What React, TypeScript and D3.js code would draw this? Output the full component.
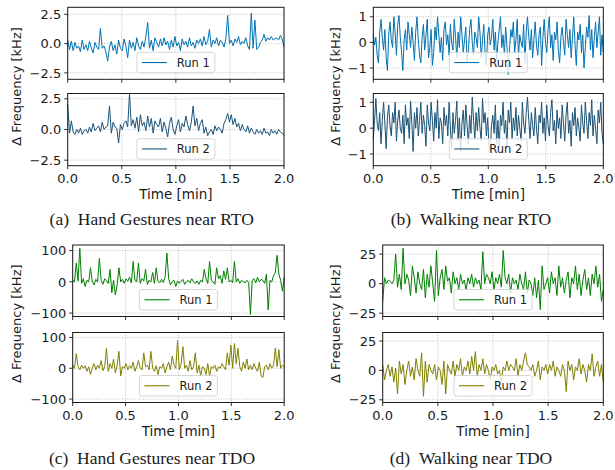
import React from "react";
import * as d3 from "d3";

// ---------- data (kHz deviation, evenly sampled over 0–2 min) ----------
const timeTicks = [0, 0.5, 1.0, 1.5, 2.0];
const ticksGesturesRTO = [-2.5, 0, 2.5];
const ticksWalkingRTO = [-1, 0, 1];
const ticksGesturesTDO = [-100, 0, 100];
const ticksWalkingTDO = [-25, 0, 25];

const gesturesRTORun1 = [
  0.3, -0.5, 0.2, -0.6, 0.1, -0.4, -0.2, -0.7, 0.3, -0.5,
  -0.1, -0.6, 0.2, -0.4, -0.8, 0.1, -0.3, -0.5, 1.3, -0.4,
  -0.2, -0.7, -1.5, -0.3, 0.2, -0.6, -0.1, -0.9, 0.3, -0.4,
  -0.6, 0.4, -0.2, -1.2, 0.3, -0.4, 0.1, -0.6, 0.5, -0.2,
  -0.5, 0.2, -0.3, 0.6, 1.8, -0.4, 0.3, -0.6, 0.5, 0.1,
  -0.3, 0.4, -0.2, 0.5, -0.1, 0.2, -0.5, 0.3, -0.3, 0.6,
  -0.2, 0.1, -0.6, 0.4, -0.1, 0.2, -0.3, 0.5, -0.2, 0.1,
  -0.4, 0.3, 0.0, 0.4, -0.2, 0.6, -0.1, 0.2, 1.2, -0.3,
  0.3, 0.0, 0.5, -0.2, 0.3, 0.1, -0.3, 0.4, 2.4, 0.0,
  0.3, -0.2, 0.4, 0.1, 0.6, -0.1, 0.2, 0.0, 0.5, -0.2,
  -0.5, 2.6, -0.4, 2.0, -0.5, -0.3, 0.1, 0.3, 0.8, 0.2,
  0.5, 0.3, 0.6, 0.3, 0.4, 0.5, 0.3, 0.7, 0.4, -0.3,
];
const gesturesRTORun2 = [
  2.1, -0.3, 0.7, -0.2, -0.4, 0.0, -0.3, 0.1, -0.4, -0.1,
  0.0, -0.3, 0.2, -0.2, 0.5, -0.1, 0.1, 0.3, -0.2, 0.6,
  0.0, 0.2, 0.3, 1.9, -0.3, 0.6, 0.2, 0.1, -1.1, 0.4,
  0.0, 0.5, 0.7, 0.2, 2.9, 0.3, 0.8, 0.1, 1.0, -0.2,
  1.2, 0.3, 0.6, -0.1, 1.1, 0.2, 0.9, -0.3, 0.7, 0.4,
  0.2, 0.9, -0.2, 0.6, 0.1, -0.6, 0.5, 1.0, 0.0, -0.4,
  0.3, 0.8, -0.2, 0.5, 0.2, 1.1, 0.4, -0.1, 0.6, 1.9,
  0.3, 0.9, -0.1, 0.5, 0.8, -0.3, 0.2, -0.5, -0.2, 0.0,
  -0.4, 0.3, -0.1, 0.2, 0.0, -0.3, 0.5, 0.8, 1.3, 0.6,
  1.2, 0.4, 0.9, 0.2, 0.5, -0.1, 0.4, 0.0, -0.2, 0.3,
  -0.3, 0.1, -0.2, -0.4, 0.0, -0.3, -0.1, -0.4, 0.1, -0.3,
  -0.2, -0.5, 0.0, -0.3, -0.1, -0.4, 0.0, -0.2, -0.3, -0.5,
];
const walkingRTORun1 = [
  0.3, -0.1, 0.2, -0.5, -0.8, 0.4, 0.9, 0.2, -0.3, 0.5,
  -0.6, -1.1, 0.3, 0.8, 0.1, -0.2, 1.0, 0.4, -0.5, 0.7,
  1.05, 0.2, -0.4, -1.1, 0.1, 0.5, -0.3, 0.8, 0.3, -0.2,
  0.6, 0.0, -0.7, 0.4, 1.0, 0.1, -0.5, -0.8, 0.2, 0.7,
  -0.3, 0.3, 0.9, -0.6, -0.2, 0.5, -0.9, -0.4, 0.6, 0.1,
  1.0, 0.3, -0.4, 0.2, -0.7, 0.5, 0.8, -0.1, 0.3, -0.5,
  0.7, 0.0, -0.3, 0.9, 0.2, -0.6, 0.4, -0.2, 1.0, 0.3,
  -0.4, 0.1, 0.6, -0.8, -0.3, 0.5, 0.9, 0.0, -0.5, 0.4,
  0.2, -0.2, 1.0, 0.4, -0.6, 0.1, 0.7, -0.4, -0.9, 0.3,
  0.6, -0.1, 0.2, 0.9, -0.3, 0.4, -0.7, 0.0, 0.5, 1.0,
  -0.2, 0.3, -0.5, 0.6, -0.1, -1.25, -0.3, 0.5, 0.2, 0.8,
  -0.4, 0.1, 0.9, -0.6, 0.3, 0.0, -0.2, 0.7, -0.8, 0.4,
  1.0, 0.2, -0.3, 0.5, -0.6, 0.1, 0.8, -0.1, -0.5, 0.3,
  0.6, -0.9, 0.2, 0.9, 0.0, -0.4, 0.5, 1.0, -0.2, 0.3,
  -0.7, 0.4, 0.1, 0.8, -0.3, -0.8, 0.2, 0.6, 0.0, -0.5,
  0.9, 0.3, -0.2, 0.5, -0.6, 0.2, 1.0, -0.1, -0.9, 0.4,
  0.1, 0.7, -0.4, 0.3, -1.0, -0.2, 0.6, 0.2, 1.05, -0.3,
  0.5, -0.6, 0.2, 0.8, -0.2, 0.4, 1.0, -0.5, 0.3, -0.4,
];
const walkingRTORun2 = [
  -0.4, 0.3, 1.15, 0.2, -0.1, 0.6, -0.6, 0.3, 1.0, 0.2,
  -0.8, 0.4, 0.9, 0.1, -0.3, 0.6, 0.2, 1.0, -0.5, 0.3,
  0.7, 0.0, -0.2, 0.5, -0.6, 0.9, 0.1, 0.4, -0.4, 1.05,
  0.2, -0.9, 0.6, 0.0, 0.8, -0.3, 0.3, 1.0, -0.2, 0.5,
  0.1, -0.7, 0.9, 0.2, -0.1, 1.0, 0.3, -0.5, 0.6, 0.0,
  1.1, -0.4, 0.4, 0.2, -0.6, 0.8, 0.1, 0.5, -0.3, 1.0,
  0.0, -0.8, 0.6, -0.2, 0.3, 1.05, -0.5, 0.4, -0.9, 0.2,
  0.7, -0.3, 0.9, 0.1, -0.6, 0.5, -0.2, 1.2, 0.3, -0.4,
  0.6, -0.1, 0.8, 0.0, -0.5, 1.15, 0.2, 0.6, -0.3, 0.4,
  -0.7, -0.9, 0.1, 0.5, -0.2, 0.9, -0.6, 0.3, -0.8, 0.5,
  0.1, 1.0, -0.2, 0.3, -0.7, 0.7, 0.2, 1.0, -0.4, 0.4,
  -0.1, 0.8, -0.3, 0.5, 0.0, -0.5, 1.0, 0.2, -0.2, 0.6,
  1.2, 0.3, -0.4, 0.6, 0.1, -0.3, 0.8, 0.0, -0.6, 0.5,
  0.2, 1.0, -0.2, 0.4, -0.5, 0.9, 0.1, -0.3, 0.6, 1.1,
  -0.1, 0.3, -0.6, 0.7, 0.0, 0.4, -0.4, 0.9, 0.2, -0.5,
  0.5, 1.0, -0.2, 0.3, -0.7, 0.6, 0.1, 0.8, -0.3, 0.4,
  0.0, -0.5, 0.9, 0.2, -0.2, 1.0, 0.3, -0.4, 0.6, 0.1,
  1.1, -0.3, 0.5, 0.0, -0.6, 0.7, 0.2, 1.0, -0.2, -0.6,
];
const gesturesTDORun1 = [
  5, 0, 60, 3, 108, -5, 10, -15, 5, 0,
  45, 2, -10, 8, 0, 75, 5, -8, 10, 3,
  -5, 40, -35, 5, -42, -10, 45, 0, 8, -5,
  10, 2, 15, -3, 65, 5, 0, 60, -5, 10,
  3, 40, -8, 5, 0, 30, -5, 45, 2, -3,
  8, -2, 15, 92, 10, -10, 0, 5, -15, 3,
  -5, 2, 8, -8, 0, 5, -3, 10, 0, -5,
  3, -8, 5, 0, 40, 10, -5, 65, 5, 0,
  -8, 45, 10, 20, -5, 35, 8, 45, 0, 5,
  -3, 65, 0, 10, -5, 5, 0, -3, 5, -2,
  -105, 5, 10, -3, 15, 0, 8, 5, -5, 25,
  -90, 5, 0, 20, 30, 85, 25, 5, -30, 15,
];
const gesturesTDORun2 = [
  10, 0, 48, 5, -5, 10, 0, 8, -10, 5,
  -20, 0, 15, -5, 10, 0, 25, -8, 5, 65,
  -10, 15, 0, 30, -15, 10, 55, -25, 5, 0,
  15, -5, 8, 0, 20, -10, 5, 25, 0, -5,
  50, 5, 10, -5, 55, 0, -10, 8, -20, 5,
  0, 15, -15, 5, 20, -5, 40, 10, 0, 90,
  -5, 15, 70, 0, 10, -10, 25, -5, 5, 50,
  -15, 10, -25, 5, 0, -20, 15, -25, 5, 0,
  10, -10, 5, 0, 15, 5, -5, 50, 10, 75,
  0, 80, 15, 65, 5, -10, 20, 0, 30, -5,
  10, -5, 15, 0, -10, 20, -25, -30, 5, 10,
  -5, 15, 0, 10, 65, 5, 60, 0, 10, 5,
];
const walkingTDORun1 = [
  -15, 5, 0, 3, 2, 0, 3, 25, -3, 8,
  -5, 30, 0, 8, 3, -10, 15, 5, -8, 10,
  0, -5, 12, -12, 8, -3, 15, 0, -15, 28,
  -10, 5, 12, -5, 15, 2, 5, -8, 10, 0,
  5, -5, 8, 0, 3, -5, 5, 0, 8, -3,
  5, 0, 3, -5, 27, 0, 8, 5, 0, 10,
  -5, 5, 0, 8, -3, 28, 5, 0, 8, -8,
  5, 0, 3, -5, 8, 0, -5, 10, -8, 3,
  0, -10, 5, -12, 3, -22, 15, -5, 0, 5,
  -8, 10, 0, 5, -10, 15, -3, 5, -8, 3,
  10, -12, 5, 0, 15, -5, 8, -10, 3, 12,
  -5, 5, -10, 8, 0, 15, -3, 8, -15, -5,
];
const walkingTDORun2 = [
  5, -8, 0, 5, -5, 3, -10, 2, -20, 8,
  -3, 5, -12, 0, 8, -5, 3, -8, 10, 0,
  -5, 15, -22, 8, -10, 5, 0, -3, 5, -8,
  3, 0, -12, 8, -20, 5, 0, -3, 8, -5,
  5, 0, 10, -5, 3, 0, 8, -3, 12, 0,
  16, -5, 5, 0, 10, -3, 5, 0, -8, 3,
  0, 5, -3, 0, -10, 3, 0, 8, 0, 5,
  3, 0, 10, -5, 5, 0, 8, 15, 5, 3,
  0, 5, -5, 0, 8, -8, 3, 0, 5, -3,
  5, 0, 8, -5, 3, 0, -5, 5, 0, -18,
  8, 0, 5, -8, 3, 0, 10, -3, 5, 0,
  -10, 5, 0, 14, -5, 3, 8, -5, 5, -10,
];

const captions = [
  "(a)\u2002Hand Gestures near RTO",
  "(b)\u2002Walking near RTO",
  "(c)\u2002Hand Gestures near TDO",
  "(d)\u2002Walking near TDO",
];

// ---------- layout ----------
const SANS = "DejaVu Sans, sans-serif";
const SERIF = "Liberation Serif, DejaVu Serif, serif";
const minus = (s: string) => s.replace("-", "\u2212");

type PanelProps = {
  x0: number; x1: number; y0: number; y1: number;
  domain: [number, number]; ticks: number[]; fmt: (v: number) => string;
  data: number[]; color: string; label: string; showX: boolean;
};

function Panel({ x0, x1, y0, y1, domain, ticks, fmt, data, color, label, showX }: PanelProps) {
  const xs = d3.scaleLinear().domain([0, 2]).range([x0, x1]);
  const ys = d3.scaleLinear().domain(domain).range([y1, y0]);
  const idx = d3.scaleLinear().domain([0, data.length - 1]).range([0, 2]);
  const line = d3.line<number>().x((_, i) => xs(idx(i))).y((d) => ys(d));
  const cx = (x0 + x1) / 2;
  const lw = 78, lh = 20.5;
  const lx = cx - lw / 2, ly = y1 - 6.5 - lh;
  const xf = d3.format(".1f");
  return (
    <g>
      {timeTicks.map((t) => (
        <line key={"gx" + t} x1={xs(t)} x2={xs(t)} y1={y0} y2={y1} stroke="#b0b0b0" strokeWidth={0.8} strokeDasharray="1,1.6" />
      ))}
      {ticks.map((t) => (
        <line key={"gy" + t} x1={x0} x2={x1} y1={ys(t)} y2={ys(t)} stroke="#b0b0b0" strokeWidth={0.8} strokeDasharray="1,1.6" />
      ))}
      <path d={line(data) || ""} fill="none" stroke={color} strokeWidth={1} strokeLinejoin="round" />
      <rect x={x0} y={y0} width={x1 - x0} height={y1 - y0} fill="none" stroke="#1a1a1a" strokeWidth={1} />
      {timeTicks.map((t) => (
        <line key={"tx" + t} x1={xs(t)} x2={xs(t)} y1={y1} y2={y1 + 3.5} stroke="#1a1a1a" strokeWidth={0.9} />
      ))}
      {ticks.map((t) => (
        <g key={"ty" + t}>
          <line x1={x0 - 3.5} x2={x0} y1={ys(t)} y2={ys(t)} stroke="#1a1a1a" strokeWidth={0.9} />
          <text x={x0 - 6.5} y={ys(t)} dy="0.36em" textAnchor="end" fontFamily={SANS} fontSize={13} fill="#1a1a1a">
            {minus(fmt(t))}
          </text>
        </g>
      ))}
      {showX &&
        timeTicks.map((t) => (
          <text key={"lx" + t} x={xs(t)} y={y1 + 17.5} textAnchor="middle" fontFamily={SANS} fontSize={13} fill="#1a1a1a">
            {xf(t)}
          </text>
        ))}
      {showX && (
        <text x={cx} y={y1 + 33.5} textAnchor="middle" fontFamily={SANS} fontSize={13.5} fill="#1a1a1a">
          Time [min]
        </text>
      )}
      <rect x={lx} y={ly} width={lw} height={lh} rx={2.5} fill="#ffffff" fillOpacity={0.8} stroke="#cccccc" strokeWidth={0.8} />
      <line x1={lx + 5} x2={lx + 30} y1={ly + lh / 2} y2={ly + lh / 2} stroke={color} strokeWidth={1.1} />
      <text x={lx + 40} y={ly + lh / 2} dy="0.36em" fontFamily={SANS} fontSize={11.5} fill="#1a1a1a">
        {label}
      </text>
    </g>
  );
}

type Sub = {
  x0: number; x1: number; top: [number, number]; bot: [number, number];
  domTop: [number, number]; domBot: [number, number]; ticks: number[];
  fmt: (v: number) => string; d1: number[]; d2: number[]; c1: string; c2: string;
  ylx: number; cap: string; capX: number; capY: number;
};

const fmtA = d3.format(".1f");
const fmtI = d3.format("d");

const subs: Sub[] = [
  { x0: 67.7, x1: 284, top: [7.3, 79.3], bot: [93.5, 165.7], domTop: [-3.05, 3.1], domBot: [-2.95, 2.93],
    ticks: ticksGesturesRTO, fmt: fmtA, d1: gesturesRTORun1, d2: gesturesRTORun2, c1: "#0072b2", c2: "#1b5276",
    ylx: 20.5, cap: captions[0], capX: 151.7, capY: 224.5 },
  { x0: 373.3, x1: 603.3, top: [7.3, 79.3], bot: [93.5, 165.7], domTop: [-1.44, 1.37], domBot: [-1.45, 1.34],
    ticks: ticksWalkingRTO, fmt: fmtI, d1: walkingRTORun1, d2: walkingRTORun2, c1: "#0072b2", c2: "#1b5276",
    ylx: 339.5, cap: captions[1], capX: 471, capY: 224.5 },
  { x0: 72.7, x1: 284.2, top: [245, 316.5], bot: [332.5, 402.5], domTop: [-111, 118], domBot: [-111, 116],
    ticks: ticksGesturesTDO, fmt: fmtI, d1: gesturesTDORun1, d2: gesturesTDORun2, c1: "#008000", c2: "#808000",
    ylx: 20.5, cap: captions[2], capX: 152, capY: 464 },
  { x0: 382.7, x1: 603.3, top: [245, 316.5], bot: [332.5, 402.5], domTop: [-27.8, 32.7], domBot: [-27.3, 32.3],
    ticks: ticksWalkingTDO, fmt: fmtI, d1: walkingTDORun1, d2: walkingTDORun2, c1: "#008000", c2: "#808000",
    ylx: 339.5, cap: captions[3], capX: 471, capY: 464 },
];

export default function App() {
  return (
    <svg width={615} height={470} viewBox="0 0 615 470" style={{ position: "absolute", left: 0, top: 0, background: "#fff" }}>
      <rect x={0} y={0} width={615} height={470} fill="#fff" />
      {subs.map((s, k) => {
        const midY = (s.top[0] + s.bot[1]) / 2;
        return (
          <g key={k}>
            <Panel x0={s.x0} x1={s.x1} y0={s.top[0]} y1={s.top[1]} domain={s.domTop} ticks={s.ticks} fmt={s.fmt}
              data={s.d1} color={s.c1} label="Run 1" showX={false} />
            <Panel x0={s.x0} x1={s.x1} y0={s.bot[0]} y1={s.bot[1]} domain={s.domBot} ticks={s.ticks} fmt={s.fmt}
              data={s.d2} color={s.c2} label="Run 2" showX={true} />
            <text transform={`translate(${s.ylx},${midY}) rotate(-90)`} textAnchor="middle" fontFamily={SANS} fontSize={13} fill="#1a1a1a">
              Δ Frequency [kHz]
            </text>
            <text x={s.capX} y={s.capY} textAnchor="middle" fontFamily={SERIF} fontSize={17.5} fill="#1a1a1a">
              {s.cap}
            </text>
          </g>
        );
      })}
    </svg>
  );
}
